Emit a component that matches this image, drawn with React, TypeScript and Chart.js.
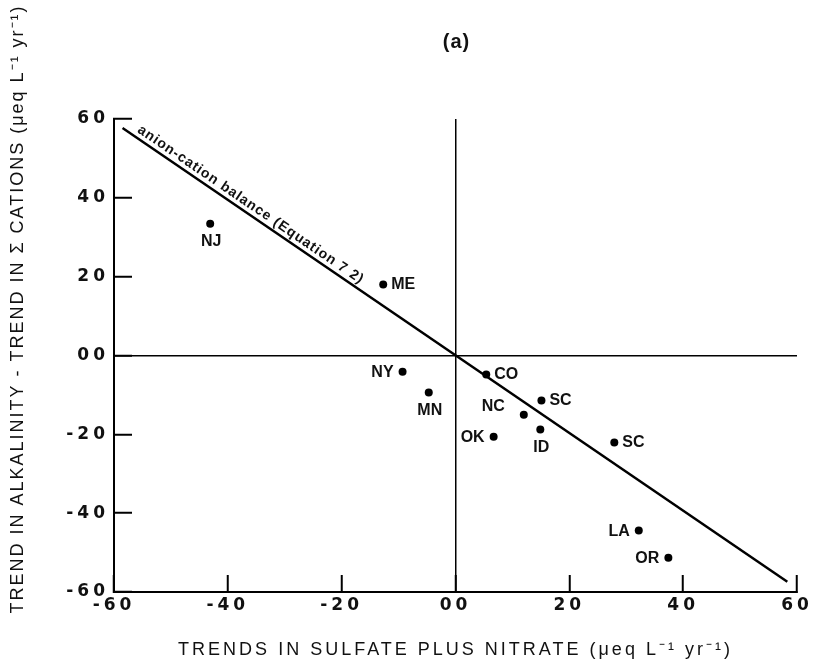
import React, { useEffect, useRef } from "react";
import { Chart, registerables } from "chart.js";

Chart.register(...registerables);

// ---- data ----
const stations = ["NJ", "ME", "NY", "MN", "CO", "NC", "SC", "OK", "ID", "SC", "LA", "OR"];
const sulfateNitrateTrend = [-43.1, -12.7, -9.3, -4.7, 5.4, 12.0, 15.1, 6.7, 14.9, 27.9, 32.2, 37.4];
const alkalinityCationTrend = [33.4, 18.0, -4.1, -9.4, -4.8, -15.0, -11.4, -20.6, -18.8, -22.1, -44.4, -51.3];
const balanceLineX = [-58.5, 58.3];
const balanceLineY = [57.7, -57.4];
const tickValues = [-60, -40, -20, 0, 20, 40, 60];
const xTickLabels = ["-60", "-40", "-20", "00", "20", "40", "60"];
const yTickLabels = ["-60", "-40", "-20", "00", "20", "40", "60"];
const balanceLabel = "anion-cation balance (Equation 7 2)";
const chartTitle = "(a)";
const xTitle = "TRENDS IN SULFATE PLUS NITRATE (\u03BCeq L\u207B\u00B9 yr\u207B\u00B9)";
const yTitle = "TREND IN ALKALINITY - TREND IN \u03A3 CATIONS (\u03BCeq L\u207B\u00B9 yr\u207B\u00B9)";

// ---- label placement (style, not data) ----
const labelPlacement = ["below", "right", "left", "below", "right", "upleft", "right", "left", "below", "right", "left", "left"];

const INK = "#111";
const FONT = '"Liberation Sans", Arial, sans-serif';
const TICK_FONT = '"DejaVu Sans", sans-serif';

const annotate = {
  id: "annotate",
  beforeDraw(chart: any) {
    chart.ctx.letterSpacing = "4px";
  },
  beforeDatasetsDraw(chart: any) {
    chart.ctx.letterSpacing = "0px";
  },
  afterDatasetsDraw(chart: any) {
    const { ctx, chartArea } = chart;
    const xs = chart.scales.x;
    const ys = chart.scales.y;
    ctx.save();
    ctx.fillStyle = INK;
    ctx.letterSpacing = "0px";

    // point labels
    ctx.font = `bold 16px ${FONT}`;
    const meta = chart.getDatasetMeta(1);
    meta.data.forEach((el: any, i: number) => {
      const p = labelPlacement[i];
      let dx = 0, dy = 0;
      ctx.textBaseline = "middle";
      if (p === "below") { ctx.textAlign = "center"; dx = 1; dy = 18; }
      else if (p === "right") { ctx.textAlign = "left"; dx = 8; dy = 0; }
      else if (p === "left") { ctx.textAlign = "right"; dx = -9; dy = 1; }
      else { ctx.textAlign = "right"; dx = -19; dy = -8; }
      ctx.fillText(stations[i], el.x + dx, el.y + dy);
    });

    // rotated label along the balance line
    const px1 = xs.getPixelForValue(balanceLineX[0]);
    const py1 = ys.getPixelForValue(balanceLineY[0]);
    const px2 = xs.getPixelForValue(balanceLineX[1]);
    const py2 = ys.getPixelForValue(balanceLineY[1]);
    const ang = Math.atan2(py2 - py1, px2 - px1);
    const startX = -56.5;
    const t = (startX - balanceLineX[0]) / (balanceLineX[1] - balanceLineX[0]);
    const sy = balanceLineY[0] + t * (balanceLineY[1] - balanceLineY[0]);
    ctx.translate(xs.getPixelForValue(startX), ys.getPixelForValue(sy));
    ctx.rotate(ang);
    ctx.font = `bold 14px ${FONT}`;
    ctx.letterSpacing = "1px";
    ctx.textAlign = "left";
    ctx.textBaseline = "alphabetic";
    ctx.fillText(balanceLabel, 0, -5);
    ctx.restore();

    // titles
    ctx.save();
    ctx.fillStyle = INK;
    ctx.textAlign = "center";
    ctx.textBaseline = "middle";
    ctx.letterSpacing = "1px";
    ctx.font = `bold 20px ${FONT}`;
    ctx.fillText(chartTitle, (chartArea.left + chartArea.right) / 2 + 1, 42);
    ctx.letterSpacing = "3px";
    ctx.font = `18px ${FONT}`;
    ctx.fillText(xTitle, (chartArea.left + chartArea.right) / 2, 650);
    ctx.letterSpacing = "2px";
    ctx.translate(18, 309);
    ctx.rotate(-Math.PI / 2);
    ctx.fillText(yTitle, 0, 0);
    ctx.restore();
  },
};

export default function App() {
  const ref = useRef<HTMLCanvasElement>(null);
  useEffect(() => {
    if (!ref.current) return;
    const gridColor = (c: any) => (c.tick && c.tick.value === 0 ? "#000" : "rgba(0,0,0,0)");
    const chart = new Chart(ref.current, {
      type: "scatter",
      data: {
        datasets: [
          {
            data: balanceLineX.map((x, i) => ({ x, y: balanceLineY[i] })),
            showLine: true,
            borderColor: "#000",
            borderWidth: 2.5,
            pointRadius: 0,
          },
          {
            data: sulfateNitrateTrend.map((x, i) => ({ x, y: alkalinityCationTrend[i] })),
            pointRadius: 4,
            pointBackgroundColor: "#000",
            pointBorderWidth: 0,
            showLine: false,
          },
        ],
      },
      options: {
        animation: false,
        responsive: false,
        layout: { padding: { top: 119, right: 19, bottom: 0, left: 0 } },
        plugins: { legend: { display: false }, tooltip: { enabled: false }, title: { display: false } },
        scales: {
          x: {
            type: "linear",
            position: "bottom",
            min: -60,
            max: 60,
            afterFit: (s: any) => { s.height = 77; s.paddingLeft = 0; s.paddingRight = 0; },
            afterBuildTicks: (s: any) => { s.ticks = tickValues.map((v) => ({ value: v })); },
            ticks: {
              callback: (v: any) => xTickLabels[tickValues.indexOf(Number(v))],
              font: { family: TICK_FONT, size: 17, weight: "bold" },
              color: INK,
              padding: 20,
              maxRotation: 0,
              autoSkip: false,
            },
            grid: { color: gridColor, lineWidth: 1.5, tickColor: "#000", tickWidth: 2, tickLength: -17, drawOnChartArea: true },
            border: { display: true, color: "#000", width: 2 },
          },
          y: {
            type: "linear",
            min: -60,
            max: 60,
            afterFit: (s: any) => { s.width = 114; s.paddingTop = 0; s.paddingBottom = 0; },
            afterBuildTicks: (s: any) => { s.ticks = tickValues.map((v) => ({ value: v })); },
            ticks: {
              callback: (v: any) => yTickLabels[tickValues.indexOf(Number(v))],
              font: { family: TICK_FONT, size: 17, weight: "bold" },
              color: INK,
              padding: 23,
              autoSkip: false,
            },
            grid: { color: gridColor, lineWidth: 1.5, tickColor: "#000", tickWidth: 2, tickLength: -18, drawOnChartArea: true },
            border: { display: true, color: "#000", width: 2 },
          },
        },
      },
      plugins: [annotate],
    } as any);
    return () => chart.destroy();
  }, []);
  return (
    <div style={{ position: "fixed", left: 0, top: 0, width: 816, height: 669, background: "#fff" }}>
      <canvas ref={ref} width={816} height={669} style={{ display: "block" }} />
    </div>
  );
}
